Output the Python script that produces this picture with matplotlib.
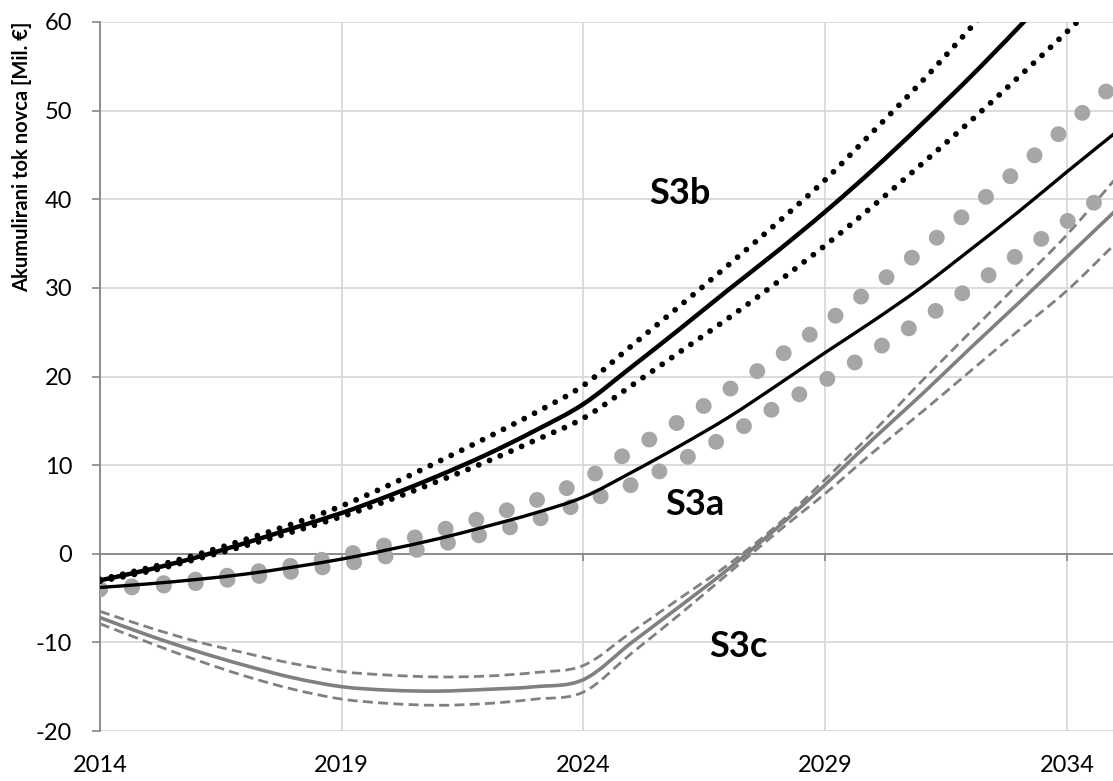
import matplotlib
matplotlib.use("Agg")
import matplotlib.pyplot as plt
from matplotlib.path import Path
from matplotlib.patches import PathPatch

plt.rcParams['font.family'] = ['Lato', 'DejaVu Sans']

years = list(range(2014, 2036))

# S3b scenario (black): central solid line and two dotted bounds
s3b_mid = [-3.0, -1.8, -0.4, 1.2, 2.9, 4.6, 6.6, 8.8, 11.2, 13.9, 16.9,
           21.1, 25.4, 29.8, 34.1, 38.6, 43.4, 48.5, 53.8, 59.4, 65.2, 71.2]
s3b_high = [-2.9, -1.6, -0.1, 1.6, 3.4, 5.4, 7.8, 10.4, 13.1, 15.9, 19.0,
            23.5, 28.0, 32.6, 37.3, 42.2, 47.7, 53.3, 59.3, 65.5, 72.0, 78.5]
s3b_low = [-3.1, -2.0, -0.6, 0.9, 2.5, 4.2, 6.1, 8.2, 10.4, 12.8, 15.3,
           19.0, 22.8, 26.6, 30.6, 34.8, 39.3, 44.0, 48.8, 53.8, 58.9, 64.2]

# S3a scenario: black solid line and two grey dotted bounds
s3a_mid = [-3.8, -3.4, -2.9, -2.3, -1.5, -0.6, 0.5, 1.7, 3.1, 4.6, 6.4,
           9.2, 12.2, 15.4, 19.0, 22.7, 26.3, 30.1, 34.3, 38.6, 43.1, 47.5]
s3a_high = [-4.0, -3.5, -2.9, -2.2, -1.3, -0.2, 1.1, 2.6, 4.2, 6.0, 8.3,
            11.7, 15.0, 18.5, 22.1, 26.0, 30.1, 34.3, 38.8, 43.4, 48.2, 53.1]
s3a_low = [-4.0, -3.7, -3.3, -2.7, -2.0, -1.2, -0.2, 1.0, 2.3, 3.8, 5.8,
           7.8, 10.5, 13.4, 16.6, 19.6, 22.9, 26.4, 30.0, 33.8, 37.5, 41.3]

# S3c scenario: grey solid line and two grey dashed bounds
s3c_mid = [-7.2, -9.2, -11.0, -12.6, -14.0, -15.0, -15.4, -15.5, -15.3, -15.0, -14.2,
           -10.0, -5.9, -1.7, 2.9, 7.8, 13.0, 18.0, 23.2, 28.3, 33.5, 38.7]
s3c_high = [-6.5, -8.3, -9.9, -11.2, -12.4, -13.3, -13.7, -13.9, -13.8, -13.4, -12.6,
            -8.8, -5.0, -1.2, 3.2, 8.4, 13.8, 19.5, 25.0, 30.5, 36.0, 42.3]
s3c_low = [-7.9, -10.0, -12.0, -13.8, -15.3, -16.4, -16.9, -17.1, -16.9, -16.4, -15.6,
           -11.2, -6.8, -2.2, 2.4, 6.8, 11.5, 16.0, 20.6, 25.2, 29.7, 35.0]

x_ticks = [2014, 2019, 2024, 2029, 2034]
x_ticklabels = ['2014', '2019', '2024', '2029', '2034']
y_ticks = [-20, -10, 0, 10, 20, 30, 40, 50, 60]
y_ticklabels = ['-20', '-10', '0', '10', '20', '30', '40', '50', '60']

labels = ['S3b', 'S3a', 'S3c']
label_pos = [(2026.0, 40.6), (2026.3, 5.6), (2027.2, -10.5)]
y_label = 'Akumulirani tok novca [Mil. \u20ac]'


def smooth_line(ax, xs, ys, **kw):
    """Draw a smoothed (Excel-style Bezier) line through the data points."""
    pts = list(zip(xs, ys))
    n = len(pts)
    verts = [pts[0]]
    codes = [Path.MOVETO]
    for i in range(n - 1):
        p0 = pts[i - 1] if i > 0 else pts[i]
        p1 = pts[i]
        p2 = pts[i + 1]
        p3 = pts[i + 2] if i + 2 < n else pts[i + 1]
        c1 = (p1[0] + (p2[0] - p0[0]) / 6, p1[1] + (p2[1] - p0[1]) / 6)
        c2 = (p2[0] - (p3[0] - p1[0]) / 6, p2[1] - (p3[1] - p1[1]) / 6)
        verts += [c1, c2, p2]
        codes += [Path.CURVE4] * 3
    patch = PathPatch(Path(verts, codes), fill=False, **kw)
    ax.add_patch(patch)
    return patch


W, H = 1113, 781
fig = plt.figure(figsize=(W / 100, H / 100), dpi=100)
ax = fig.add_axes([100 / W, 50 / H, 1013 / W, 709 / H])
ax.set_xlim(2014, 2014 + 1013 / 48.35)
ax.set_ylim(-20, 60)

grid_c = '#d9d9d9'
axis_c = '#868686'
ax.set_xticks(x_ticks)
ax.set_yticks(y_ticks)
ax.set_yticklabels(y_ticklabels)
ax.grid(True, color=grid_c, lw=1.3, zorder=0)
ax.set_axisbelow(True)

for s in ['top', 'right']:
    ax.spines[s].set_visible(False)
ax.spines['left'].set_color(axis_c)
ax.spines['left'].set_linewidth(1.3)
ax.spines['bottom'].set_position(('data', 0))
ax.spines['bottom'].set_color(axis_c)
ax.spines['bottom'].set_linewidth(1.3)

ax.tick_params(axis='y', direction='out', length=6, width=1.2, color=axis_c,
               labelsize=17, pad=14, labelcolor='black')
ax.tick_params(axis='x', direction='out', length=5, width=1.2, color=axis_c,
               labelbottom=False)

sec = ax.secondary_xaxis('bottom')
sec.set_xticks(x_ticks)
sec.set_xticklabels(x_ticklabels)
sec.tick_params(length=0, labelsize=17, pad=17)
sec.spines['bottom'].set_visible(False)

grey_line = '#808080'
grey_dot = '#a6a6a6'

# S3c
for ser in (s3c_high, s3c_low):
    smooth_line(ax, years, ser, edgecolor=grey_line, lw=2.0, ls=(0, (3.6, 1.9)),
                capstyle='butt', zorder=2)
smooth_line(ax, years, s3c_mid, edgecolor=grey_line, lw=2.6, zorder=2)

# S3a grey dotted bounds
for ser in (s3a_high, s3a_low):
    smooth_line(ax, years, ser, edgecolor=grey_dot, lw=11.5, ls=(0, (0.001, 2.0)),
                capstyle='round', zorder=3)

# S3a solid
smooth_line(ax, years, s3a_mid, edgecolor='black', lw=2.4, zorder=4)

# S3b dotted bounds and solid
for ser in (s3b_high, s3b_low):
    smooth_line(ax, years, ser, edgecolor='black', lw=4.2, ls=(0, (0.001, 2.0)),
                capstyle='round', zorder=4)
smooth_line(ax, years, s3b_mid, edgecolor='black', lw=3.2, zorder=5)

for lab, (lx, ly) in zip(labels, label_pos):
    ax.text(lx, ly, lab, fontsize=26, fontweight='bold', ha='center', va='center', zorder=6)

fig.text(22 / W, 1 - 157 / H, y_label, rotation=90, fontsize=14.5, fontweight='bold',
         ha='center', va='center')

fig.savefig('out.png', dpi=100)
